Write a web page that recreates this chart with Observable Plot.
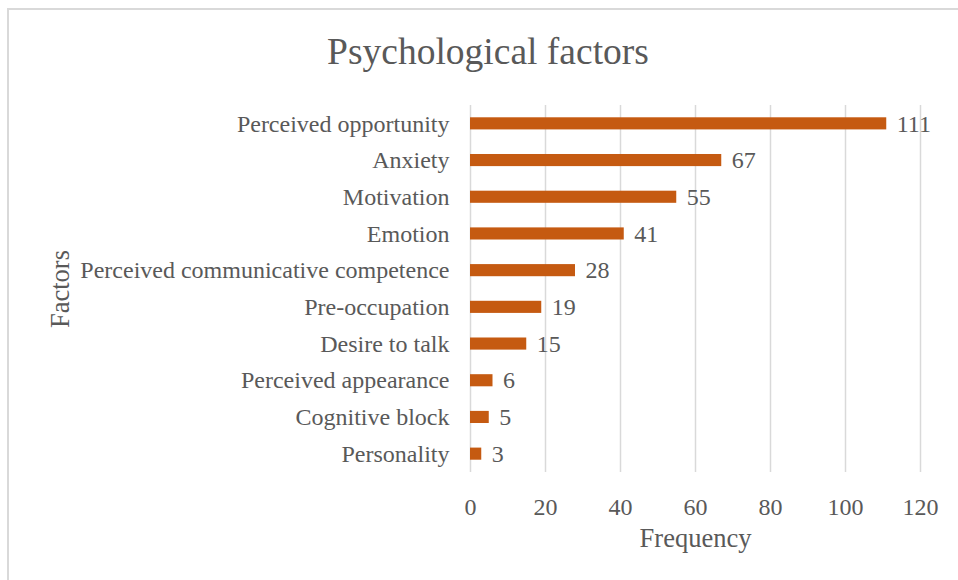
<!DOCTYPE html>
<html>
<head>
<meta charset="utf-8">
<script src="https://cdn.jsdelivr.net/npm/d3@7"></script>
<script src="https://cdn.jsdelivr.net/npm/@observablehq/plot@0.6"></script>
<style>
  html, body { margin: 0; padding: 0; background: #fff; }
  #wrap { position: relative; width: 958px; height: 580px; overflow: hidden; font-family: "Liberation Serif", "Times New Roman", serif; }
  #frame { position: absolute; left: 7px; top: 8px; width: 1000px; height: 1000px; border-left: 2px solid #d9d9d9; border-top: 2px solid #d9d9d9; box-sizing: border-box; }
  #title { position: absolute; left: 0; width: 976px; top: 33px; text-align: center; font-size: 37.5px; color: #595959; line-height: 1; }
  #chart { position: absolute; left: 0; top: 0; }
</style>
</head>
<body>
<div id="wrap">
  <div id="frame"></div>
  <div id="chart"></div>
  <div id="title">Psychological factors</div>
</div>
<script>
const factors = ["Perceived opportunity", "Anxiety", "Motivation", "Emotion", "Perceived communicative competence", "Pre-occupation", "Desire to talk", "Perceived appearance", "Cognitive block", "Personality"];
const frequency = [111, 67, 55, 41, 28, 19, 15, 6, 5, 3];
const xTicks = [0, 20, 40, 60, 80, 100, 120];

const data = factors.map((f, i) => ({factor: f, value: frequency[i]}));
const textColor = "#595959";

const chart = Plot.plot({
  width: 958,
  height: 580,
  marginLeft: 470,
  marginRight: 38,
  marginTop: 105,
  marginBottom: 108,
  style: {fontFamily: "'Liberation Serif', 'Times New Roman', serif", fontSize: "24px", color: textColor, background: "transparent"},
  x: {domain: [0, 120], ticks: xTicks, label: null},
  y: {domain: factors, paddingInner: 0.67, paddingOuter: 0.335, round: false, label: null},
  marks: [
    Plot.gridX(xTicks, {stroke: "#d9d9d9", strokeOpacity: 1, strokeWidth: 1.5}),
    Plot.barX(data, {y: "factor", x: "value", fill: "#C55A11"}),
    Plot.text(data, {y: "factor", x: "value", text: d => String(d.value), dx: 10, textAnchor: "start", fill: textColor, fontSize: 24}),
    Plot.axisX(xTicks, {tickSize: 0, tickPadding: 25, fontSize: 24, fill: textColor, label: null}),
    Plot.axisY({tickSize: 0, tickPadding: 21, fontSize: 24, fill: textColor, label: null}),
    Plot.text(["Frequency"], {frameAnchor: "bottom", lineAnchor: "middle", dy: 66, fontSize: 26.5, fill: textColor}),
    Plot.text(["Factors"], {frameAnchor: "left", textAnchor: "middle", dx: -410, rotate: -90, fontSize: 26.5, fill: textColor})
  ]
});
document.getElementById("chart").appendChild(chart);
</script>
</body>
</html>
